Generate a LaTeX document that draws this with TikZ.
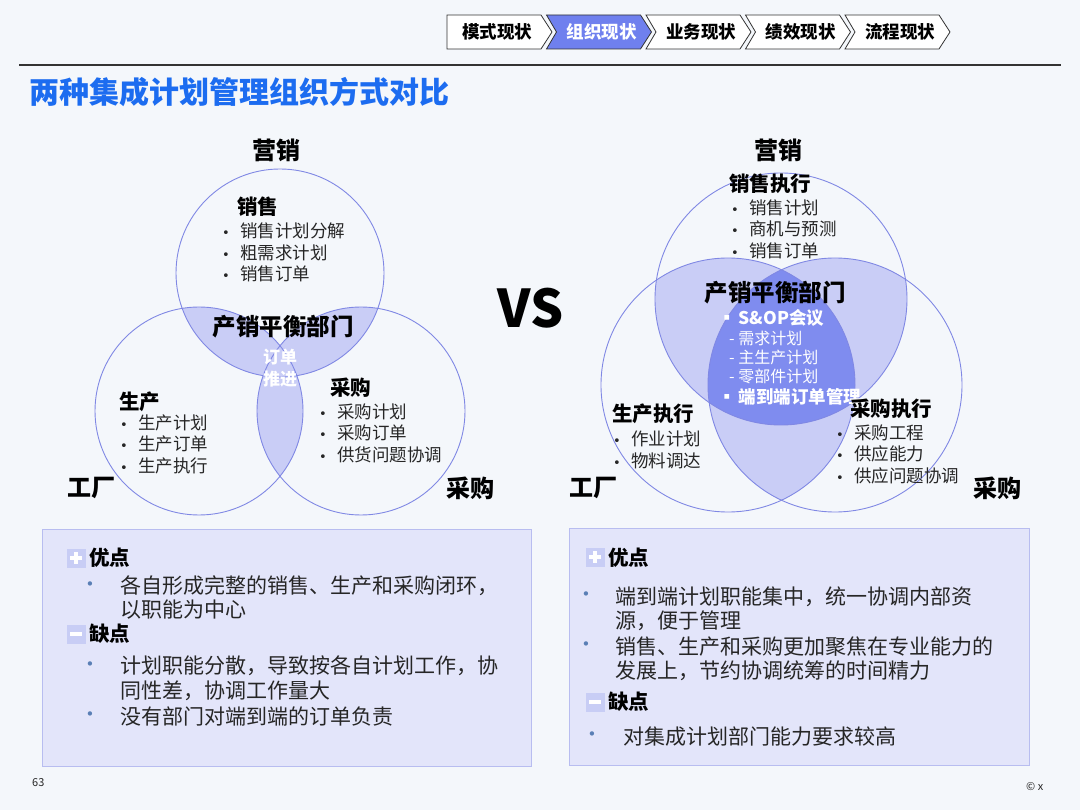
\documentclass[tikz,border=0pt]{standalone}
\usepackage{fontspec}
\setmainfont{Noto Sans CJK SC}
\newfontfamily\dvfont{DejaVu Sans}
\definecolor{bgc}{HTML}{F4F7FB}
\definecolor{ringc}{HTML}{8088E4}
\definecolor{lavc}{HTML}{C9CDF6}
\definecolor{darkc}{HTML}{7F8CEF}
\definecolor{navc}{HTML}{6F80EE}
\definecolor{titlec}{HTML}{1C6CF0}
\definecolor{boxc}{HTML}{E3E5FA}
\definecolor{boxline}{HTML}{B8BDF0}
\definecolor{iconc}{HTML}{C8CDF5}
\definecolor{dotc}{HTML}{5A7FB5}
\definecolor{txtc}{HTML}{262626}
\begin{document}
\begin{tikzpicture}[x=1pt,y=-1pt,
  ring/.style={draw=ringc, line width=0.9pt},
  navbox/.style={draw=black!80, line width=0.8pt, fill=white},
  navtxt/.style={font=\bfseries\fontsize{17.5}{20}\selectfont, text=black, inner sep=0},
  head/.style={font=\bfseries\fontsize{24}{28}\selectfont, text=black, inner sep=0},
  sub/.style={font=\bfseries\fontsize{20.5}{24}\selectfont, text=black, inner sep=0, anchor=west},
  mid/.style={font=\bfseries\fontsize{23.5}{28}\selectfont, text=black, inner sep=0},
  item/.style={font=\fontsize{17.5}{20}\selectfont, text=txtc, inner sep=0, anchor=west},
  witem/.style={font=\bfseries\fontsize{17.5}{20}\selectfont, text=white, inner sep=0, anchor=west},
  wsub/.style={font=\fontsize{16}{19}\selectfont, text=white, inner sep=0, anchor=west},
  btxt/.style={font=\fontsize{21}{24}\selectfont, text=txtc, inner sep=0, anchor=west},
  bdot/.style={font=\dvfont\fontsize{15}{17}\selectfont, text=dotc, inner sep=0},
  panel/.style={draw=boxline, line width=1pt, fill=boxc},
  icon/.style={minimum size=19pt, inner sep=0, fill=iconc},
  plusicon/.style={icon, path picture={
     \draw[white, line width=3.2pt] ([xshift=-6pt]path picture bounding box.center) -- ([xshift=6pt]path picture bounding box.center);
     \draw[white, line width=3.2pt] ([yshift=-6pt]path picture bounding box.center) -- ([yshift=6pt]path picture bounding box.center);}},
  minusicon/.style={icon, path picture={
     \draw[white, line width=3.2pt] ([xshift=-6pt]path picture bounding box.center) -- ([xshift=6pt]path picture bounding box.center);}},
]
\newcommand{\bl}[1]{\makebox[18pt][l]{{\dvfont\fontsize{13}{15}\selectfont •}}#1}
% background
\fill[bgc] (0,0) rectangle (1080,810);
\useasboundingbox (0,0) rectangle (1080,810);

% navigation chevrons
\foreach \i/\t in {0/模式现状,1/组织现状,2/业务现状,3/绩效现状,4/流程现状}{
  \pgfmathsetmacro{\xa}{447+99.5*\i}
  \ifnum\i=1
    \path[navbox, fill=navc] (\xa,15) -- ++(94,0) -- ++(11,17) -- ++(-11,17) -- ++(-94,0) -- ++(10,-17) -- cycle;
    \node[navtxt, text=white] (nav\i) at (\xa+55,32) {\t};
  \else\ifnum\i=0
    \path[navbox] (\xa,15) -- ++(94,0) -- ++(11,17) -- ++(-11,17) -- ++(-94,0) -- cycle;
    \node[navtxt] (nav\i) at (\xa+50,32) {\t};
  \else
    \path[navbox] (\xa,15) -- ++(94,0) -- ++(11,17) -- ++(-11,17) -- ++(-94,0) -- ++(10,-17) -- cycle;
    \node[navtxt] (nav\i) at (\xa+55,32) {\t};
  \fi\fi
}
\draw[line width=1.8pt, black!80] (19,65) -- (1061,65);

% title
\node[font=\bfseries\fontsize{30}{34}\selectfont, text=titlec, inner sep=0, anchor=west] (title) at (29,92) {两种集成计划管理组织方式对比};

% ---------------- left Venn ----------------
\coordinate (LT) at (280,273);
\coordinate (LL) at (199,411);
\coordinate (LR) at (361,411);
\begin{scope}\clip (LT) circle[radius=104pt]; \fill[lavc] (LL) circle[radius=104pt]; \fill[lavc] (LR) circle[radius=104pt];\end{scope}
\begin{scope}\clip (LL) circle[radius=104pt]; \fill[lavc] (LR) circle[radius=104pt];\end{scope}
\draw[ring] (LT) circle[radius=104pt];
\draw[ring] (LL) circle[radius=104pt];
\draw[ring] (LR) circle[radius=104pt];

\node[head] (lyx) at (276,150) {营销};
\node[sub] (lxs) at (237,207) {销售};
\node[item] (lxs1) at (222,231) {\bl{销售计划分解}};
\node[item] (lxs2) at (222,253) {\bl{粗需求计划}};
\node[item] (lxs3) at (222,274) {\bl{销售订单}};
\node[mid] (lcx) at (283,327) {产销平衡部门};
\node[font=\bfseries\fontsize{17}{20}\selectfont, text=white, inner sep=0] (ldd) at (280,357) {订单};
\node[font=\bfseries\fontsize{17}{20}\selectfont, text=white, inner sep=0] (ltj) at (280,379) {推进};
\node[sub] (lsc) at (119,402) {生产};
\node[item] (lsc1) at (120,423) {\bl{生产计划}};
\node[item] (lsc2) at (120,444) {\bl{生产订单}};
\node[item] (lsc3) at (120,466) {\bl{生产执行}};
\node[sub] (lcg) at (330,388) {采购};
\node[item] (lcg1) at (319,412) {\bl{采购计划}};
\node[item] (lcg2) at (319,433) {\bl{采购订单}};
\node[item] (lcg3) at (319,455) {\bl{供货问题协调}};
\node[head, anchor=west] (lgc) at (67,488) {工厂};
\node[head, anchor=west] (lcgo) at (446,488) {采购};

% VS
\node[font=\bfseries\fontsize{52}{56}\selectfont, text=black, inner sep=0] (vs) at (531,308) {VS};

% ---------------- right Venn ----------------
\coordinate (RT) at (781,299);
\coordinate (RL) at (728,385);
\coordinate (RR) at (835,385);
\begin{scope}\clip (RT) circle[radius=126pt]; \fill[lavc] (RL) circle[radius=127pt]; \fill[lavc] (RR) circle[radius=127pt];\end{scope}
\begin{scope}\clip (RL) circle[radius=127pt]; \fill[lavc] (RR) circle[radius=127pt];\end{scope}
\begin{scope}\clip (RT) circle[radius=126pt]; \clip (RL) circle[radius=127pt]; \fill[darkc] (RR) circle[radius=127pt];\end{scope}
\draw[ring] (RT) circle[radius=126pt];
\draw[ring] (RL) circle[radius=127pt];
\draw[ring] (RR) circle[radius=127pt];

\node[head] (ryx) at (778,150) {营销};
\node[sub] (rxs) at (729,184) {销售执行};
\node[item] (rxs1) at (731,208) {\bl{销售计划}};
\node[item] (rxs2) at (731,229) {\bl{商机与预测}};
\node[item] (rxs3) at (731,251) {\bl{销售订单}};
\node[mid] (rcx) at (775,293) {产销平衡部门};
\node[witem] (rso) at (718,318) {▪\,S\&OP会议};
\node[wsub] (rso1) at (729,338) {- 需求计划};
\node[wsub] (rso2) at (729,357) {- 主生产计划};
\node[wsub] (rso3) at (729,376) {- 零部件计划};
\node[witem] (rdd) at (718,397) {▪\,端到端订单管理};
\node[sub] (rsc) at (612,414) {生产执行};
\node[item] (rsc1) at (613,439) {\bl{作业计划}};
\node[item] (rsc2) at (613,461) {\bl{物料调达}};
\node[sub] (rcg) at (850,409) {采购执行};
\node[item] (rcg1) at (836,433) {\bl{采购工程}};
\node[item] (rcg2) at (836,454) {\bl{供应能力}};
\node[item] (rcg3) at (836,476) {\bl{供应问题协调}};
\node[head, anchor=west] (rgc) at (569,488) {工厂};
\node[head, anchor=west] (rcgo) at (973,488) {采购};

% ---------------- bottom panels ----------------
\node[panel, minimum width=489pt, minimum height=237pt, anchor=north west] (lbox) at (42,529) {};
\node[panel, minimum width=460pt, minimum height=237pt, anchor=north west] (rbox) at (569,528) {};

% left panel
\node[plusicon] (lpi) at (76,558) {};
\node[sub] (lyd) at (89,558) {优点};
\node[bdot] (ld1) at (90,586) {•};
\node[btxt] (l11) at (120,586) {各自形成完整的销售、生产和采购闭环，};
\node[btxt] (l12) at (120,610) {以职能为中心};
\node[minusicon] (lmi) at (76,634) {};
\node[sub] (lqd) at (89,634) {缺点};
\node[bdot] (ld2) at (90,666) {•};
\node[btxt] (l21) at (120,666) {计划职能分散，导致按各自计划工作，协};
\node[btxt] (l22) at (120,691) {同性差，协调工作量大};
\node[bdot] (ld3) at (90,716) {•};
\node[btxt] (l31) at (120,716) {没有部门对端到端的订单负责};

% right panel
\node[plusicon] (rpi) at (595,557) {};
\node[sub] (ryd) at (608,558) {优点};
\node[bdot] (rd1) at (586,596) {•};
\node[btxt] (r11) at (615,597) {端到端计划职能集中，统一协调内部资};
\node[btxt] (r12) at (615,621) {源，便于管理};
\node[bdot] (rd2) at (586,646) {•};
\node[btxt] (r21) at (615,647) {销售、生产和采购更加聚焦在专业能力的};
\node[btxt] (r22) at (615,671) {发展上，节约协调统筹的时间精力};
\node[minusicon] (rmi) at (595,702) {};
\node[sub] (rqd) at (608,702) {缺点};
\node[bdot] (rd3) at (592,736) {•};
\node[btxt] (r31) at (623,737) {对集成计划部门能力要求较高};

% footer
\node[font=\fontsize{11}{13}\selectfont, text=txtc, inner sep=0, anchor=west] (pg) at (32,783) {63};
\node[font=\fontsize{11}{13}\selectfont, text=txtc, inner sep=0, anchor=west] (cp) at (1026,787) {© x};
\end{tikzpicture}
\end{document}
